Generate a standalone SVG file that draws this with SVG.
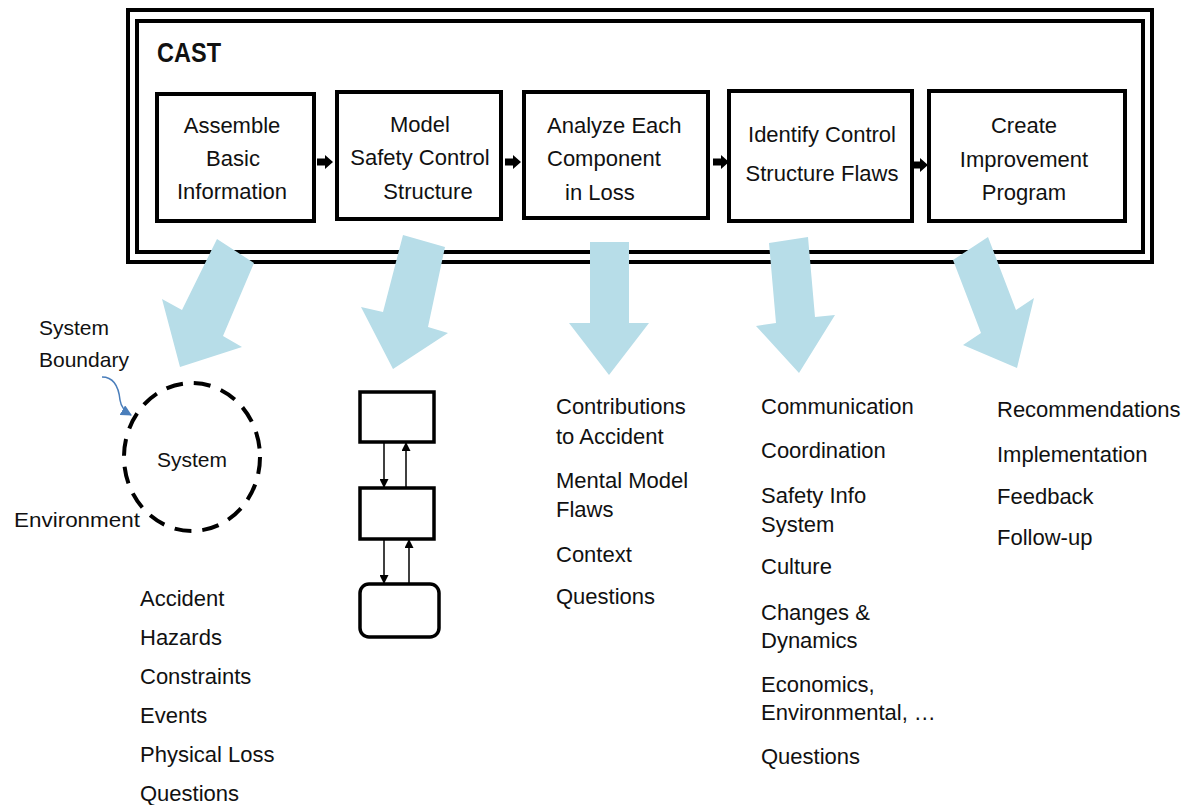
<svg xmlns="http://www.w3.org/2000/svg" width="1187" height="805" viewBox="0 0 1187 805">
  <style>
    .frame { fill: none; stroke: #000; stroke-width: 4; }
    .box { fill: #fff; stroke: #000; stroke-width: 4; }
    .cbox { fill: #fff; stroke: #000; stroke-width: 3.5; }
    .step { font-family: "Liberation Sans", Arial, sans-serif; font-size: 22px; fill: #111; }
    .mid { text-anchor: middle; }
    .title { font-family: "Liberation Sans", Arial, sans-serif; font-size: 28px; font-weight: bold; fill: #111; }
    .lbl { font-family: "Liberation Sans", Arial, sans-serif; font-size: 21px; fill: #111; }
    .item { font-family: "Liberation Sans", Arial, sans-serif; font-size: 22px; fill: #111; }
    .big { fill: #b7dde8; stroke: none; }
    .flow { fill: #000; stroke: none; }
    .thin { fill: none; stroke: #000; stroke-width: 1.5; }
  </style>
  <defs>
    <marker id="ah" viewBox="0 0 10 10" refX="10" refY="5" markerWidth="11" markerHeight="9" markerUnits="userSpaceOnUse" orient="auto">
      <path d="M0,0 L10,5 L0,10 Z" fill="#000"/>
    </marker>
    <marker id="ahb" viewBox="0 0 10 10" refX="9" refY="5" markerWidth="11" markerHeight="11" markerUnits="userSpaceOnUse" orient="auto">
      <path d="M0,0 L10,5 L0,10 Z" fill="#4a7ebb"/>
    </marker>
  </defs>
  <rect width="1187" height="805" fill="#fff"/>

  <g id="cast-frame">
    <rect class="frame" x="128" y="10" width="1024" height="252"/>
    <rect class="frame" x="137" y="21" width="1006" height="231"/>
    <text class="title" x="157" y="62" textLength="64" lengthAdjust="spacingAndGlyphs">CAST</text>
  </g>

  <g id="step1">
    <rect class="box" x="157" y="94" width="157" height="127"/>
    <text class="step mid" x="232" y="133">Assemble</text>
    <text class="step mid" x="233" y="166">Basic</text>
    <text class="step mid" x="232" y="199">Information</text>
  </g>
  <g id="step2">
    <rect class="box" x="337" y="92" width="164" height="127"/>
    <text class="step mid" x="420" y="132">Model</text>
    <text class="step mid" x="420" y="165">Safety Control</text>
    <text class="step mid" x="428" y="199">Structure</text>
  </g>
  <g id="step3">
    <rect class="box" x="524" y="92" width="184" height="126"/>
    <text class="step" x="547" y="133">Analyze Each</text>
    <text class="step" x="547" y="166">Component</text>
    <text class="step" x="565" y="200">in Loss</text>
  </g>
  <g id="step4">
    <rect class="box" x="729" y="91" width="183" height="130"/>
    <text class="step mid" x="822" y="142">Identify Control</text>
    <text class="step mid" x="822" y="181">Structure Flaws</text>
  </g>
  <g id="step5">
    <rect class="box" x="929" y="91" width="196" height="130"/>
    <text class="step mid" x="1024" y="133">Create</text>
    <text class="step mid" x="1024" y="167">Improvement</text>
    <text class="step mid" x="1024" y="200">Program</text>
  </g>

  <g id="system-view">
    <ellipse cx="192" cy="457" rx="68" ry="74" fill="none" stroke="#000" stroke-width="4" stroke-dasharray="17 11"/>
    <text class="lbl" x="157" y="467">System</text>
    <text class="lbl" x="39" y="335">System</text>
    <text class="lbl" x="39" y="367">Boundary</text>
    <text class="lbl" x="14" y="527" textLength="126" lengthAdjust="spacingAndGlyphs">Environment</text>
  </g>

  <g id="control-structure">
    <rect class="cbox" x="360" y="392" width="74" height="50"/>
    <rect class="cbox" x="360" y="488" width="74" height="51"/>
    <rect class="cbox" x="360" y="584" width="79" height="53" rx="9"/>
  </g>

  <g id="list-basic">
    <text class="item" x="140" y="606">Accident</text>
    <text class="item" x="140" y="645">Hazards</text>
    <text class="item" x="140" y="684">Constraints</text>
    <text class="item" x="140" y="723">Events</text>
    <text class="item" x="140" y="762">Physical Loss</text>
    <text class="item" x="140" y="801">Questions</text>
  </g>
  <g id="list-component">
    <text class="item" x="556" y="414">Contributions</text>
    <text class="item" x="556" y="444">to Accident</text>
    <text class="item" x="556" y="488">Mental Model</text>
    <text class="item" x="556" y="517">Flaws</text>
    <text class="item" x="556" y="562">Context</text>
    <text class="item" x="556" y="604">Questions</text>
  </g>
  <g id="list-flaws">
    <text class="item" x="761" y="414">Communication</text>
    <text class="item" x="761" y="458">Coordination</text>
    <text class="item" x="761" y="503">Safety Info</text>
    <text class="item" x="761" y="532">System</text>
    <text class="item" x="761" y="574">Culture</text>
    <text class="item" x="761" y="620">Changes &amp;</text>
    <text class="item" x="761" y="648">Dynamics</text>
    <text class="item" x="761" y="692">Economics,</text>
    <text class="item" x="761" y="720">Environmental, …</text>
    <text class="item" x="761" y="764">Questions</text>
  </g>
  <g id="list-improvement">
    <text class="item" x="997" y="417">Recommendations</text>
    <text class="item" x="997" y="462">Implementation</text>
    <text class="item" x="997" y="504">Feedback</text>
    <text class="item" x="997" y="545">Follow-up</text>
  </g>

  <g id="connectors">
    <polygon class="flow" points="317,158.5 325,158.5 325,155 333,162 325,169 325,165.5 317,165.5"/>
    <polygon class="flow" points="505,158.5 513,158.5 513,155 521,162 513,169 513,165.5 505,165.5"/>
    <polygon class="flow" points="713,158.5 721,158.5 721,155 729,162 721,169 721,165.5 713,165.5"/>
    <polygon class="flow" points="912,161.5 920,161.5 920,158 928,165 920,172 920,168.5 912,168.5"/>

    <polygon class="big" points="217,239 254,263 223,336 242,347 180,367 162,299 182,310"/>
    <polygon class="big" points="403,235 445,247 428,327 448,333 393,369 361,307 383,312"/>
    <polygon class="big" points="590,242 629,242 629,323 649,323 609,375 569,323 590,323"/>
    <polygon class="big" points="769,243 808,237 815,317 835,315 799,373 756,326 776,323"/>
    <polygon class="big" points="953,260 988,237 1016,310 1034,298 1017,368 963,345 981,333"/>

    <line class="thin" x1="384" y1="442" x2="384" y2="488" marker-end="url(#ah)"/>
    <line class="thin" x1="406" y1="488" x2="406" y2="442" marker-end="url(#ah)"/>
    <line class="thin" x1="384" y1="539" x2="384" y2="584" marker-end="url(#ah)"/>
    <line class="thin" x1="409" y1="584" x2="409" y2="539" marker-end="url(#ah)"/>

    <path d="M102,377 C116,377 119,390 120,400 C121,407 124,411 131,415" fill="none" stroke="#4a7ebb" stroke-width="1.5" marker-end="url(#ahb)"/>
  </g>
</svg>
